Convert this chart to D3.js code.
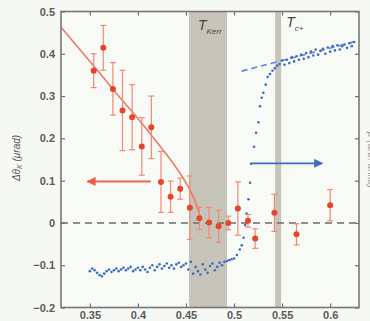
<!DOCTYPE html>
<html><head><meta charset="utf-8">
<script src="https://cdn.jsdelivr.net/npm/d3@7"></script>
<style>
html,body{margin:0;padding:0;background:#f6f8f3;overflow:hidden;}
svg{display:block;}
text{font-family:"Liberation Sans",Arial,sans-serif;}
</style></head>
<body>
<svg id="chart" width="370" height="321"></svg>
<script>
// ---- data ----
const xTicks = [0.35, 0.4, 0.45, 0.5, 0.55, 0.6];
const xTickLabels = ["0.35", "0.4", "0.45", "0.5", "0.55", "0.6"];
const yTicks = [-0.2, -0.1, 0, 0.1, 0.2, 0.3, 0.4, 0.5];
const yTickLabels = ["\u22120.2", "\u22120.1", "0", "0.1", "0.2", "0.3", "0.4", "0.5"];

const bandKerr = [0.4531, 0.4927];
const bandTc = [0.5427, 0.549];

const kerrX = [0.354,0.364,0.374,0.384,0.394,0.404,0.414,0.424,0.434,0.444,0.454,0.464,0.474,0.484,0.494,0.504,0.5145,0.522,0.542,0.565,0.600];
const kerrY = [0.36,0.414,0.317,0.266,0.25,0.181,0.226,0.097,0.062,0.081,0.036,0.011,0.001,-0.008,0.0,0.034,0.005,-0.037,0.024,-0.027,0.042];
const kerrErr = [0.04,0.053,0.062,0.095,0.077,0.068,0.074,0.072,0.037,0.025,0.075,0.026,0.036,0.038,0.016,0.063,0.015,0.023,0.044,0.025,0.037];

const fitX = [0.3208,0.34,0.36,0.38,0.40,0.42,0.44,0.45,0.455,0.46,0.4646];
const fitY = [0.461,0.409,0.355,0.300,0.247,0.190,0.130,0.095,0.074,0.048,0.016];

const blueX = [0.350,0.3525,0.355,0.3575,0.360,0.3625,0.365,0.3675,0.370,0.3725,0.375,0.3775,0.380,0.3825,0.385,0.3875,0.390,0.3925,0.395,0.3975,
0.400,0.4025,0.405,0.4075,0.410,0.4125,0.415,0.4175,0.420,0.4225,0.425,0.4275,0.430,0.4325,0.435,0.4375,0.440,0.4425,0.445,0.4475,
0.450,0.4525,0.455,0.4575,0.460,0.4625,0.465,0.4675,0.470,0.4725,0.475,0.4775,0.480,0.4825,0.485,0.4875,0.490,0.4925,0.495,0.4975,
0.500,0.503,0.506,0.508,0.510,0.5115,0.513,0.515,0.5167,0.5177,0.5208,0.5229,0.5253,0.527,0.5288,0.5305,0.533,0.535,0.5375,
0.540,0.5425,0.545,0.5475,0.550,0.5525,0.555,0.5575,0.560,0.5625,0.565,0.5675,0.570,0.5725,0.575,0.5775,0.580,0.5825,0.585,0.5875,
0.590,0.5925,0.595,0.5975,0.600,0.6025,0.605,0.6075,0.610,0.6125,0.615,0.6175,0.620,0.6225,0.625];
const blueY = [-0.114,-0.108,-0.112,-0.118,-0.123,-0.126,-0.120,-0.114,-0.110,-0.116,-0.112,-0.108,-0.114,-0.110,-0.106,-0.112,-0.108,-0.104,-0.114,-0.110,
-0.106,-0.112,-0.104,-0.110,-0.116,-0.106,-0.100,-0.112,-0.104,-0.098,-0.108,-0.102,-0.096,-0.106,-0.100,-0.108,-0.098,-0.094,-0.104,-0.100,
-0.096,-0.110,-0.092,-0.120,-0.104,-0.114,-0.122,-0.098,-0.110,-0.118,-0.102,-0.096,-0.112,-0.104,-0.094,-0.100,-0.092,-0.090,-0.088,-0.086,
-0.084,-0.076,-0.063,-0.053,-0.035,-0.005,0.022,0.056,0.095,0.140,0.180,0.213,0.238,0.276,0.296,0.308,0.327,0.345,0.352,
0.360,0.366,0.372,0.376,0.384,0.374,0.386,0.378,0.392,0.382,0.394,0.386,0.398,0.388,0.402,0.392,0.405,0.396,0.410,0.398,
0.407,0.412,0.400,0.415,0.405,0.418,0.408,0.420,0.410,0.418,0.422,0.414,0.425,0.418,0.428];

const blueDashX = [0.5079, 0.6278];
const blueDashY = [0.359, 0.430];

const redArrowX = [0.4135, 0.3475];
const redArrowY = [0.098, 0.098];
const blueArrowX = [0.5184, 0.5918];
const blueArrowY = [0.141, 0.141];

// ---- chart ----
const svg = d3.select("#chart");
const L = 61, R = 359, T = 11.5, B = 307.5;
const x = d3.scaleLinear().domain([0.32, 0.63]).range([L, R]);
const y = d3.scaleLinear().domain([-0.2, 0.5]).range([B, T]);
const yR = d3.scaleLinear().domain([-0.2, 0.5]).range([B, T]);

const defs = svg.append("defs");
function arrowMarker(id, color){
  defs.append("marker").attr("id", id).attr("viewBox","0 0 10 10")
    .attr("refX", 9).attr("refY", 5).attr("markerWidth", 5).attr("markerHeight", 5)
    .attr("orient","auto-start-reverse").attr("markerUnits","strokeWidth")
    .append("path").attr("d","M0,0 L10,5 L0,10 Z").attr("fill", color);
}
arrowMarker("redHead", "#ec5b43");
arrowMarker("blueHead", "#3b6cc0");

svg.append("rect").attr("x", L).attr("y", T).attr("width", R-L).attr("height", B-T).attr("fill", "#f8faf5");

// bands
[bandKerr, bandTc].forEach(b => {
  svg.append("rect").attr("x", x(b[0])).attr("y", T).attr("width", x(b[1]) - x(b[0])).attr("height", B - T)
    .attr("fill", "#c6c4b8");
});

// zero dashed line
svg.append("line").attr("x1", L).attr("x2", R).attr("y1", y(0)).attr("y2", y(0))
  .attr("stroke", "#6b6b6b").attr("stroke-width", 1.6).attr("stroke-dasharray", "7,5");

// blue dashed line
svg.append("line").attr("x1", x(blueDashX[0])).attr("x2", x(blueDashX[1]))
  .attr("y1", yR(blueDashY[0])).attr("y2", yR(blueDashY[1]))
  .attr("stroke", "#5d8bd2").attr("stroke-width", 1.6).attr("stroke-dasharray", "6,4");

// blue dots
svg.append("g").selectAll("circle").data(blueX).join("circle")
  .attr("cx", d => x(d)).attr("cy", (d, i) => yR(blueY[i])).attr("r", 1.3)
  .attr("fill", "#3c6cc2");

// red fit curve
const fitLine = d3.line().x(d => x(d[0])).y(d => y(d[1])).curve(d3.curveMonotoneX);
svg.append("path").datum(fitX.map((v, i) => [v, fitY[i]])).attr("d", fitLine)
  .attr("fill", "none").attr("stroke", "#f07a66").attr("stroke-width", 1.6);

// error bars
const eb = svg.append("g").attr("stroke", "#f08a78").attr("stroke-width", 1.2);
kerrX.forEach((v, i) => {
  const cx = x(v), y1 = y(kerrY[i] + kerrErr[i]), y2 = y(kerrY[i] - kerrErr[i]);
  eb.append("line").attr("x1", cx).attr("x2", cx).attr("y1", y1).attr("y2", y2);
  eb.append("line").attr("x1", cx - 3).attr("x2", cx + 3).attr("y1", y1).attr("y2", y1);
  eb.append("line").attr("x1", cx - 3).attr("x2", cx + 3).attr("y1", y2).attr("y2", y2);
});
svg.append("g").selectAll("circle").data(kerrX).join("circle")
  .attr("cx", d => x(d)).attr("cy", (d, i) => y(kerrY[i])).attr("r", 3)
  .attr("fill", "#e8432b");

// arrows
svg.append("line").attr("x1", x(redArrowX[0])).attr("x2", x(redArrowX[1]))
  .attr("y1", y(redArrowY[0])).attr("y2", y(redArrowY[1]))
  .attr("stroke", "#ec6a55").attr("stroke-width", 1.8).attr("marker-end", "url(#redHead)");
svg.append("line").attr("x1", x(blueArrowX[0])).attr("x2", x(blueArrowX[1]))
  .attr("y1", y(blueArrowY[0])).attr("y2", y(blueArrowY[1]))
  .attr("stroke", "#3b6cc0").attr("stroke-width", 1.8).attr("marker-end", "url(#blueHead)");

// band labels
const tk = svg.append("text").attr("x", x(bandKerr[0]) + 9).attr("y", 30)
  .attr("fill", "#444").attr("font-style", "italic");
tk.append("tspan").attr("font-size", 14).text("T");
tk.append("tspan").attr("font-size", 8).attr("dy", 4).text("Kerr");
const tc = svg.append("text").attr("x", x(bandTc[1]) + 5).attr("y", 27)
  .attr("fill", "#444").attr("font-style", "italic");
tc.append("tspan").attr("font-size", 14).text("T");
tc.append("tspan").attr("font-size", 8).attr("dy", 4).text("c+");

// axes
const tickColor = "#707070";
const ax = svg.append("g").attr("transform", `translate(0,${B})`)
  .call(d3.axisBottom(x).tickValues(xTicks).tickFormat((d, i) => xTickLabels[i]).tickSizeInner(-4).tickSizeOuter(0).tickPadding(4));
const axT = svg.append("g").attr("transform", `translate(0,${T})`)
  .call(d3.axisTop(x).tickValues(xTicks).tickFormat("").tickSizeInner(-4).tickSizeOuter(0));
const ay = svg.append("g").attr("transform", `translate(${L},0)`)
  .call(d3.axisLeft(y).tickValues(yTicks).tickFormat((d, i) => yTickLabels[i]).tickSizeInner(-4).tickSizeOuter(0).tickPadding(6));
const ayR = svg.append("g").attr("transform", `translate(${R},0)`)
  .call(d3.axisRight(yR).tickValues(yTicks).tickFormat("").tickSizeInner(-4).tickSizeOuter(0));
[ax, axT, ay, ayR].forEach(g => {
  g.select(".domain").remove();
  g.selectAll(".tick line").attr("stroke", tickColor).attr("stroke-width", 1.2);
  g.selectAll(".tick text").attr("fill", "#5a5a5a").attr("font-size", 11).attr("font-weight", "bold")
    .attr("font-family", "'Liberation Sans', Arial, sans-serif");
});
svg.append("rect").attr("x", L).attr("y", T).attr("width", R - L).attr("height", B - T)
  .attr("fill", "none").attr("stroke", "#777").attr("stroke-width", 1.6);

// y label
const yl = svg.append("text").attr("transform", "translate(20,158) rotate(-90)")
  .attr("text-anchor", "middle").attr("fill", "#555").attr("font-size", 10).attr("font-style", "italic");
yl.append("tspan").text("\u0394\u03b8");
yl.append("tspan").attr("font-size", 7).attr("dy", 2).text("K");
yl.append("tspan").attr("dy", -2).text(" (\u03bcrad)");

// right label (mostly cut off at the window edge)
svg.append("text").attr("transform", "translate(368,160) rotate(90)")
  .attr("text-anchor", "middle").attr("fill", "#999").attr("font-size", 10).attr("font-style", "italic")
  .text("\u03c1 (arb. units)");
</script>
</body></html>
